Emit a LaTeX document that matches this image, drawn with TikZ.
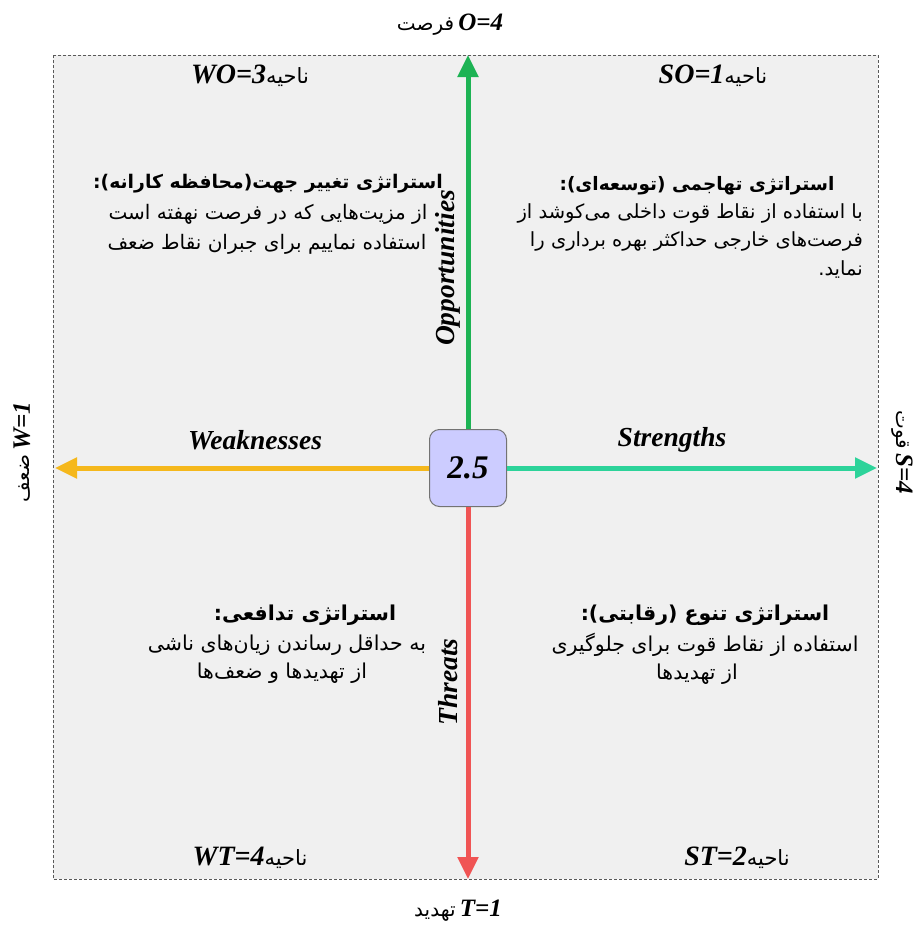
\documentclass[tikz,border=0pt]{standalone}
\usepackage{fontspec}
\setmainfont{Liberation Serif}
\newfontfamily\arfont[Script=Arabic]{DejaVu Sans}
\TeXXeTstate=1
\usetikzlibrary{arrows.meta}
\newcommand\prs[2][20]{{\arfont\mdseries\upshape\fontsize{#1}{#1}\selectfont\beginR #2\endR}}
\newcommand\prsb[2][20]{{\arfont\bfseries\upshape\fontsize{#1}{#1}\selectfont\beginR #2\endR}}
\definecolor{panel}{HTML}{F0F0F0}
\definecolor{cgreen}{HTML}{1DB354}
\definecolor{cteal}{HTML}{2DD39A}
\definecolor{cred}{HTML}{F05454}
\definecolor{cyellow}{HTML}{F5B81C}
\definecolor{cbox}{HTML}{CCCCFF}
\tikzset{
  lat/.style={font=\bfseries\itshape\fontsize{28}{30}\selectfont, inner sep=0pt},
  outlab/.style={font=\bfseries\itshape\fontsize{25}{27}\selectfont, inner sep=0pt},
  axlab/.style={font=\bfseries\itshape\fontsize{27.5}{30}\selectfont, inner sep=0pt},
  ptxt/.style={inner sep=0pt},
  axarrow/.style={line width=5pt, -{Triangle[length=22pt,width=20pt]}},
}
\begin{document}
\begin{tikzpicture}[x=1pt,y=-1pt]
\useasboundingbox (0,0) rectangle (919,926);
\fill[white] (0,0) rectangle (919,926);
\draw[gray!70!black, fill=panel, dash pattern=on 3pt off 2pt, line width=0.8pt] (53,55) rectangle (878,879);
\coordinate (tt) at (468,55);
\coordinate (bt) at (468,879);
\coordinate (lt) at (55,468);
\coordinate (rt) at (877,468);
\node[draw=black!55, fill=cbox, rounded corners=10pt, minimum width=77pt, minimum height=77pt, line width=1pt, font=\bfseries\itshape\fontsize{33}{35}\selectfont] (c) at (468,468) {2.5};
\draw[axarrow, cgreen] (c.north) -- (tt);
\draw[axarrow, cred] (c.south) -- (bt);
\draw[axarrow, cyellow] (c.west) -- (lt);
\draw[axarrow, cteal] (c.east) -- (rt);
% outer labels
\node[outlab] (top) at (450,25) {\prs[20]{فرصت}\,O=4};
\node[outlab] (bot) at (458,911) {\prs[20]{تهدید}\,T=1};
\node[outlab, rotate=90] (left) at (22,452) {\prs[20]{ضعف}\,W=1};
\node[outlab, rotate=-90] (right) at (902,452) {\prs[20]{قوت}\,S=4};
% axis labels
\node[axlab] (wk) at (255,440) {Weaknesses};
\node[axlab] (st) at (672,440) {Strengths};
\node[axlab, rotate=90] (op) at (448,268) {Opportunities};
\node[axlab, rotate=90] (th) at (448,682) {Threats};
% corner labels
\node[lat] (wo) at (250,76) {WO=3\prs[21]{ناحیه}};
\node[lat] (so) at (713,76) {SO=1\prs[21]{ناحیه}};
\node[lat] (wt) at (250,858) {WT=4\prs[21]{ناحیه}};
\node[lat] (stt) at (737,858) {ST=2\prs[21]{ناحیه}};
% top-left
\node[ptxt] (tl1) at (268,184) {\prsb[18.8]{استراتژی تغییر جهت(محافظه کارانه):}};
\node[ptxt] (tl2) at (268,214) {\prs{از مزیت‌هایی که در فرصت نهفته است}};
\node[ptxt] (tl3) at (267,244) {\prs{استفاده نمایيم برای جبران نقاط ضعف}};
% top-right
\node[ptxt] (tr1) at (697,186) {\prsb[18.5]{استراتژی تهاجمی (توسعه‌ای):}};
\node[ptxt, anchor=east] (tr2) at (863,213) {\prs[19.5]{با استفاده از نقاط قوت داخلی می‌کوشد از}};
\node[ptxt, anchor=east] (tr3) at (863,241) {\prs[19.5]{فرصت‌های خارجی حداکثر بهره برداری را}};
\node[ptxt, anchor=east] (tr4) at (863,270) {\prs[19.5]{نماید.}};
% bottom-left
\node[ptxt] (bl1) at (305,615) {\prsb[20.5]{استراتژی تدافعی:}};
\node[ptxt] (bl2) at (287,645) {\prs[20.5]{به حداقل رساندن زیان‌های ناشی}};
\node[ptxt] (bl3) at (282,673) {\prs[20.5]{از تهدیدها و ضعف‌ها}};
% bottom-right
\node[ptxt] (br1) at (705,615) {\prsb[20.5]{استراتژی تنوع (رقابتی):}};
\node[ptxt] (br2) at (705,645) {\prs[20.5]{استفاده از نقاط قوت برای جلوگیری}};
\node[ptxt] (br3) at (697,674) {\prs[20.5]{از تهدیدها}};
\end{tikzpicture}
\end{document}
